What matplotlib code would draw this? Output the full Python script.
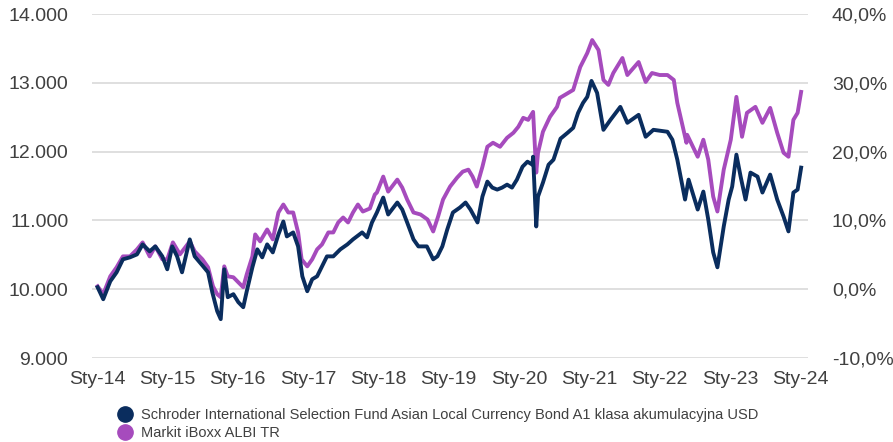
import matplotlib
matplotlib.use("Agg")
import matplotlib.pyplot as plt
from matplotlib.lines import Line2D
from matplotlib.ticker import FuncFormatter

plt.rcParams['font.family'] = ['Liberation Sans', 'DejaVu Sans']

# growth of 10 000 (left axis), time in decimal years
fund_t = [2014.01, 2014.09, 2014.19, 2014.28, 2014.37, 2014.47, 2014.57, 2014.65, 2014.75, 2014.83,
          2014.93, 2015.00, 2015.07, 2015.14, 2015.21, 2015.32, 2015.39, 2015.51, 2015.58, 2015.64,
          2015.71, 2015.76, 2015.81, 2015.86, 2015.94, 2016.01, 2016.08, 2016.13, 2016.21, 2016.28,
          2016.35, 2016.42, 2016.50, 2016.58, 2016.65, 2016.70, 2016.79, 2016.86, 2016.92, 2016.99,
          2017.06, 2017.13, 2017.20, 2017.27, 2017.36, 2017.46, 2017.56, 2017.64, 2017.77, 2017.84,
          2017.91, 2017.98, 2018.07, 2018.14, 2018.27, 2018.34, 2018.41, 2018.50, 2018.57, 2018.69,
          2018.78, 2018.84, 2018.91, 2018.98, 2019.06, 2019.16, 2019.24, 2019.31, 2019.41, 2019.48,
          2019.55, 2019.62, 2019.69, 2019.76, 2019.83, 2019.90, 2019.97, 2020.05, 2020.12, 2020.19,
          2020.20, 2020.245, 2020.27, 2020.34, 2020.42, 2020.49, 2020.59, 2020.69, 2020.77, 2020.84,
          2020.91, 2020.97, 2021.03, 2021.11, 2021.20, 2021.30, 2021.44, 2021.54, 2021.70, 2021.80,
          2021.91, 2022.11, 2022.18, 2022.25, 2022.36, 2022.41, 2022.54, 2022.62, 2022.69, 2022.76,
          2022.82, 2022.91, 2022.98, 2023.03, 2023.09, 2023.15, 2023.22, 2023.29, 2023.39, 2023.46,
          2023.57, 2023.67, 2023.76, 2023.83, 2023.90, 2023.96, 2024.01]
fund_v = [10029, 9855, 10116, 10246, 10435, 10464, 10507, 10652, 10551, 10623,
          10478, 10290, 10623, 10478, 10246, 10725, 10478, 10333, 10246, 9957,
          9681, 9565, 10290, 9884, 9928, 9812, 9739, 9971, 10319, 10580,
          10464, 10652, 10536, 10797, 10985, 10768, 10826, 10623, 10188, 9971,
          10145, 10188, 10333, 10478, 10478, 10580, 10652, 10725, 10826, 10754,
          10971, 11116, 11333, 11087, 11261, 11159, 10971, 10725, 10623, 10623,
          10435, 10478, 10623, 10869, 11116, 11188, 11261, 11159, 10971, 11348,
          11565, 11478, 11449, 11478, 11521, 11478, 11594, 11782, 11855, 11811,
          11927, 10913, 11348, 11550, 11811, 11884, 12190, 12275, 12347, 12565,
          12710, 12797, 13029, 12855, 12318, 12463, 12652, 12420, 12536, 12217,
          12318, 12290, 12174, 11884, 11304, 11594, 11159, 11420, 11014, 10536,
          10319, 10913, 11304, 11493, 11957, 11638, 11304, 11696, 11638, 11406,
          11667, 11304, 11058, 10841, 11406, 11449, 11768]

index_t = [2014.01, 2014.09, 2014.19, 2014.28, 2014.37, 2014.47, 2014.57, 2014.65, 2014.75, 2014.83,
           2014.93, 2015.00, 2015.08, 2015.18, 2015.32, 2015.39, 2015.50, 2015.58, 2015.65, 2015.71,
           2015.76, 2015.81, 2015.86, 2015.94, 2016.01, 2016.08, 2016.13, 2016.21, 2016.25, 2016.32,
           2016.42, 2016.50, 2016.58, 2016.65, 2016.72, 2016.79, 2016.86, 2016.91, 2016.99, 2017.06,
           2017.13, 2017.20, 2017.29, 2017.36, 2017.43, 2017.50, 2017.57, 2017.64, 2017.71, 2017.78,
           2017.88, 2017.95, 2017.98, 2018.07, 2018.14, 2018.27, 2018.34, 2018.41, 2018.50, 2018.60,
           2018.70, 2018.78, 2018.85, 2018.92, 2019.02, 2019.12, 2019.20, 2019.28, 2019.34, 2019.40,
           2019.48, 2019.55, 2019.63, 2019.73, 2019.83, 2019.92, 2019.99, 2020.06, 2020.13, 2020.20,
           2020.245, 2020.27, 2020.34, 2020.44, 2020.54, 2020.58, 2020.77, 2020.87, 2020.97, 2021.04,
           2021.13, 2021.20, 2021.27, 2021.34, 2021.47, 2021.54, 2021.70, 2021.80, 2021.89, 2022.00,
           2022.11, 2022.20, 2022.25, 2022.38, 2022.39, 2022.54, 2022.62, 2022.69, 2022.76, 2022.82,
           2022.91, 2023.01, 2023.09, 2023.17, 2023.24, 2023.36, 2023.46, 2023.57, 2023.67, 2023.76,
           2023.83, 2023.90, 2023.96, 2024.01]
index_v = [10043, 9928, 10188, 10319, 10478, 10478, 10580, 10681, 10478, 10623,
           10435, 10435, 10681, 10507, 10696, 10551, 10435, 10319, 10043, 9928,
           9884, 10333, 10188, 10174, 10101, 10029, 10217, 10478, 10797, 10696,
           10869, 10725, 11116, 11232, 11116, 11116, 10826, 10435, 10333, 10435,
           10580, 10652, 10826, 10826, 10971, 11043, 10971, 11116, 11232, 11130,
           11174, 11377, 11406, 11638, 11420, 11594, 11478, 11304, 11116, 11087,
           11014, 10840, 11058, 11304, 11493, 11623, 11710, 11739, 11638, 11493,
           11782, 12072, 12130, 12072, 12202, 12275, 12362, 12492, 12463, 12579,
           11696, 11985, 12290, 12507, 12652, 12782, 12898, 13231, 13434, 13623,
           13478, 13043, 12971, 13144, 13362, 13115, 13304, 13014, 13144, 13115,
           13115, 13043, 12710, 12130, 12246, 11927, 12174, 11884, 11348, 11130,
           11739, 12174, 12797, 12217, 12565, 12652, 12420, 12637, 12275, 11985,
           11927, 12463, 12565, 12869]

years = list(range(2014, 2025))
year_labels = ['Sty-%02d' % (y % 100) for y in years]
left_ticks = [9000, 10000, 11000, 12000, 13000, 14000]
right_ticks = [-10, 0, 10, 20, 30, 40]

fund_name = 'Schroder International Selection Fund Asian Local Currency Bond A1 klasa akumulacyjna USD'
index_name = 'Markit iBoxx ALBI TR'
navy = '#0a2d5e'
purple = '#a64bbd'
text_c = '#404040'

fig = plt.figure(figsize=(8.93, 4.42), dpi=100)
ax = fig.add_axes([0.103, 0.19, 0.802, 0.778])

ax.plot(index_t, index_v, color=purple, lw=2.8, solid_joinstyle='round', zorder=3)
ax.plot(fund_t, fund_v, color=navy, lw=2.8, solid_joinstyle='round', zorder=4)

ax.set_xlim(2013.93, 2024.11)
ax.set_ylim(9000, 14000)
ax.set_xticks(years)
ax.set_xticklabels(year_labels)
ax.set_yticks(left_ticks)
ax.yaxis.set_major_formatter(FuncFormatter(lambda v, p: '{:,.0f}'.format(v).replace(',', '.')))
ax.grid(axis='y', color='#d9d9d9', lw=1.2)
ax.set_axisbelow(True)
for s in ax.spines.values():
    s.set_visible(False)
ax.tick_params(axis='both', length=0, labelsize=14, colors=text_c)
ax.tick_params(axis='x', pad=9)
ax.tick_params(axis='y', pad=17)

ax2 = ax.twinx()
ax2.set_ylim(-10, 40)
ax2.set_yticks(right_ticks)
ax2.yaxis.set_major_formatter(FuncFormatter(lambda v, p: ('%.1f%%' % v).replace('.', ',')))
for s in ax2.spines.values():
    s.set_visible(False)
ax2.tick_params(axis='y', length=0, labelsize=14, colors=text_c, pad=17)

handles = [Line2D([], [], marker='o', ls='none', color=navy, markersize=11),
           Line2D([], [], marker='o', ls='none', color=purple, markersize=11)]
fig.legend(handles, [fund_name, index_name], loc='upper left', bbox_to_anchor=(0.124, 0.093),
           frameon=False, fontsize=10.5, labelcolor=text_c, handletextpad=0.55,
           labelspacing=0.25, borderpad=0, handlelength=1.0)

fig.savefig('out.png', dpi=100)
